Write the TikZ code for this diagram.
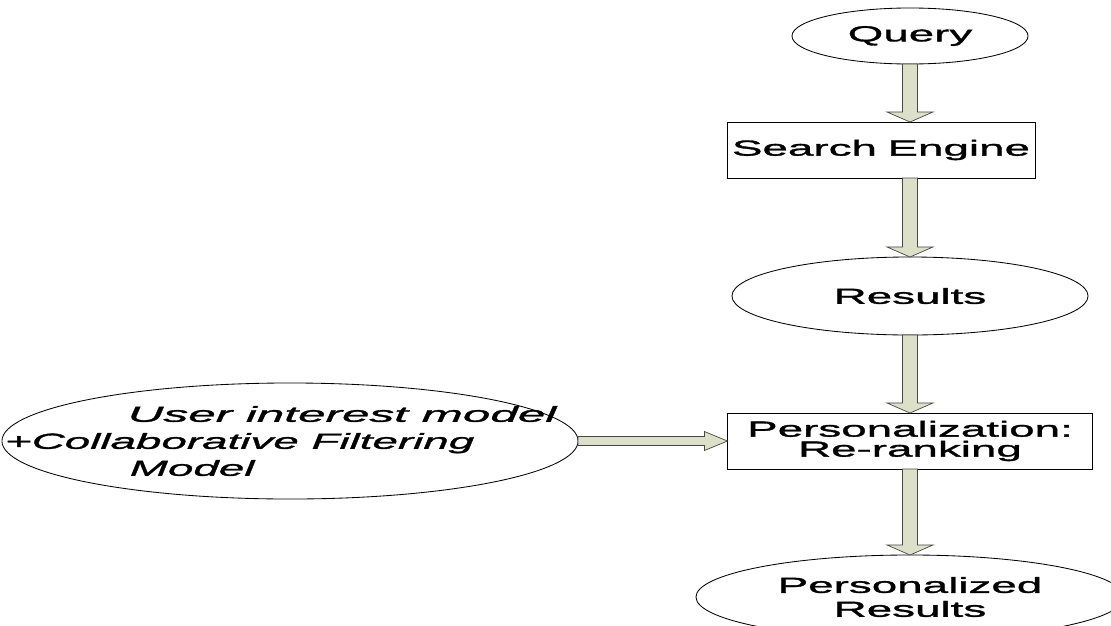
\documentclass[tikz,border=0pt]{standalone}
\usepackage{fontspec}
\usetikzlibrary{shapes.geometric, calc}
\newfontfamily\widesans[FakeStretch=2.1, FakeBold=1.5]{Liberation Sans}
\definecolor{arrowfill}{RGB}{221,224,201}
\definecolor{arrowline}{RGB}{70,70,70}

\newcommand{\vblock}[2]{%
  \draw[blockarrow] ($(#1)+(-7.5,0)$) -- ($(#2)+(-7.5,-10)$) -- ($(#2)+(-23,-10)$) -- (#2)
    -- ($(#2)+(23,-10)$) -- ($(#2)+(7.5,-10)$) -- ($(#1)+(7.5,0)$) -- cycle;}
\newcommand{\hblock}[2]{%
  \draw[blockarrow] ($(#1)+(0,-4.5)$) -- ($(#2)+(-23,-4.5)$) -- ($(#2)+(-23,-9.5)$) -- (#2)
    -- ($(#2)+(-23,9.5)$) -- ($(#2)+(-23,4.5)$) -- ($(#1)+(0,4.5)$) -- cycle;}

\begin{document}
\begin{tikzpicture}[x=0.025cm, y=-0.025cm, line width=0.6pt,
  every node/.style={font=\widesans\fontsize{15.5}{17}\selectfont, inner sep=0pt, outer sep=0pt},
  ellipsebox/.style={draw, ellipse, align=center},
  rectbox/.style={draw, rectangle, align=center},
  blockarrow/.style={draw=arrowline, fill=arrowfill, line width=0.5pt}]
  \useasboundingbox (0,0) rectangle (1111,625);
  \node[ellipsebox, minimum width=5.9cm, minimum height=1.4cm] (query) at (910,36) {Query};
  \node[rectbox, minimum width=7.7cm, minimum height=1.4cm] (engine) at (881,150) {Search\hspace{-0.1em} Engine};
  \node[ellipsebox, minimum width=8.9cm, minimum height=1.95cm] (results) at (910,296) {Results};
  \node[rectbox, minimum width=9.125cm, minimum height=1.4cm,
    font=\widesans\fontsize{15.5}{14.2}\selectfont] (rerank) at (910,441) {Personalization:\\Re-ranking};
  \node[ellipsebox, minimum width=10.7cm, minimum height=2.1cm] (final) at (910,597) {Personalized\\Results};
  \node[ellipsebox, minimum width=14.4cm, minimum height=2.9cm] (model) at (290,441) {};
  \node[anchor=west, align=left, font=\widesans\itshape\fontsize{15.5}{19.2}\selectfont] (modeltext) at (5,441)
    {\hspace*{3.07cm}\scalebox{1.08}[1]{User interest model}\\+Collaborative Filtering\\\hspace*{3.12cm}Model};
  \coordinate (enginetop) at (engine.north -| query.south);
  \coordinate (enginebot) at (engine.south -| query.south);
  \vblock{query.south}{enginetop}
  \vblock{enginebot}{results.north}
  \vblock{results.south}{rerank.north}
  \vblock{rerank.south}{final.north}
  \hblock{model.east}{rerank.west}
\end{tikzpicture}
\end{document}
